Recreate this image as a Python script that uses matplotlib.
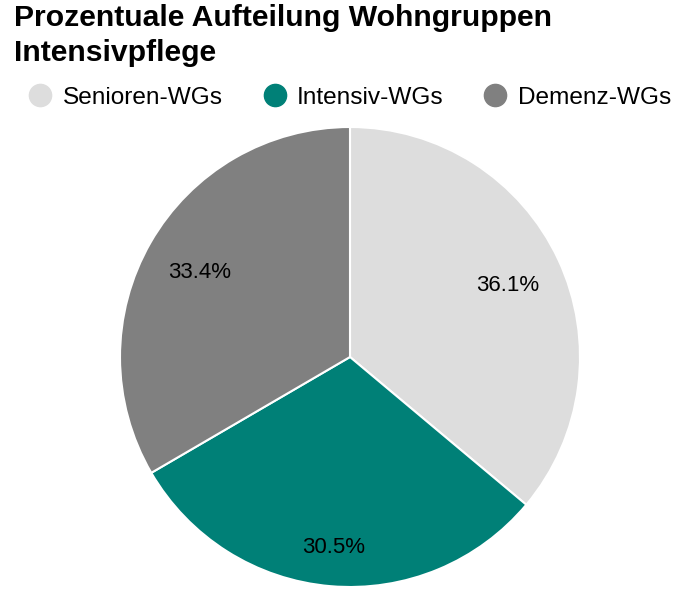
import matplotlib
matplotlib.use("Agg")
import numpy as np
import matplotlib.pyplot as plt
from matplotlib.lines import Line2D

# === DATA ===
categories = ["Senioren-WGs", "Intensiv-WGs", "Demenz-WGs"]
shares = [36.1, 30.5, 33.4]
colors = ["#dddddd", "#008077", "#808080"]

plt.rcParams['font.family'] = ['Liberation Sans', 'DejaVu Sans']

W, H = 682, 614
fig = plt.figure(figsize=(W / 100, H / 100), dpi=100)

# --- pie ---
cx, cy, r = 350, 357, 230
ax = fig.add_axes([(cx - r) / W, (H - cy - r) / H, 2 * r / W, 2 * r / H])
wedges, texts, autotexts = ax.pie(
    shares, colors=colors, startangle=90, counterclock=False,
    autopct='%1.1f%%', pctdistance=0.76,
    wedgeprops=dict(edgecolor='white', linewidth=1.5),
    textprops=dict(fontsize=16, color='black'))

# jarak label persen per irisan (label bawah sedikit lebih ke luar)
label_radius = [0.755, 0.825, 0.755]
for w, t, rr in zip(wedges, autotexts, label_radius):
    mid = np.deg2rad((w.theta1 + w.theta2) / 2)
    t.set_position((rr * np.cos(mid), rr * np.sin(mid) - 0.008))

ax.set_xlim(-1, 1)
ax.set_ylim(-1, 1)
ax.set_aspect('equal')

# --- judul ---
fig.text(14 / W, 1 - 4 / H, "Prozentuale Aufteilung Wohngruppen\nIntensivpflege",
         fontsize=21.7, fontweight='bold', ha='left', va='top', linespacing=1.3)

# --- legenda ---
handles = [Line2D([], [], marker='o', linestyle='none', markersize=16,
                  markerfacecolor=c, markeredgecolor=c) for c in colors]
fig.legend(handles, categories, loc='center left', ncol=3,
           bbox_to_anchor=(28 / W, 1 - 98 / H), frameon=False,
           fontsize=17.6, handlelength=1.0, handletextpad=0.42,
           columnspacing=1.62, borderpad=0, borderaxespad=0)

fig.savefig("out.png", dpi=100)
